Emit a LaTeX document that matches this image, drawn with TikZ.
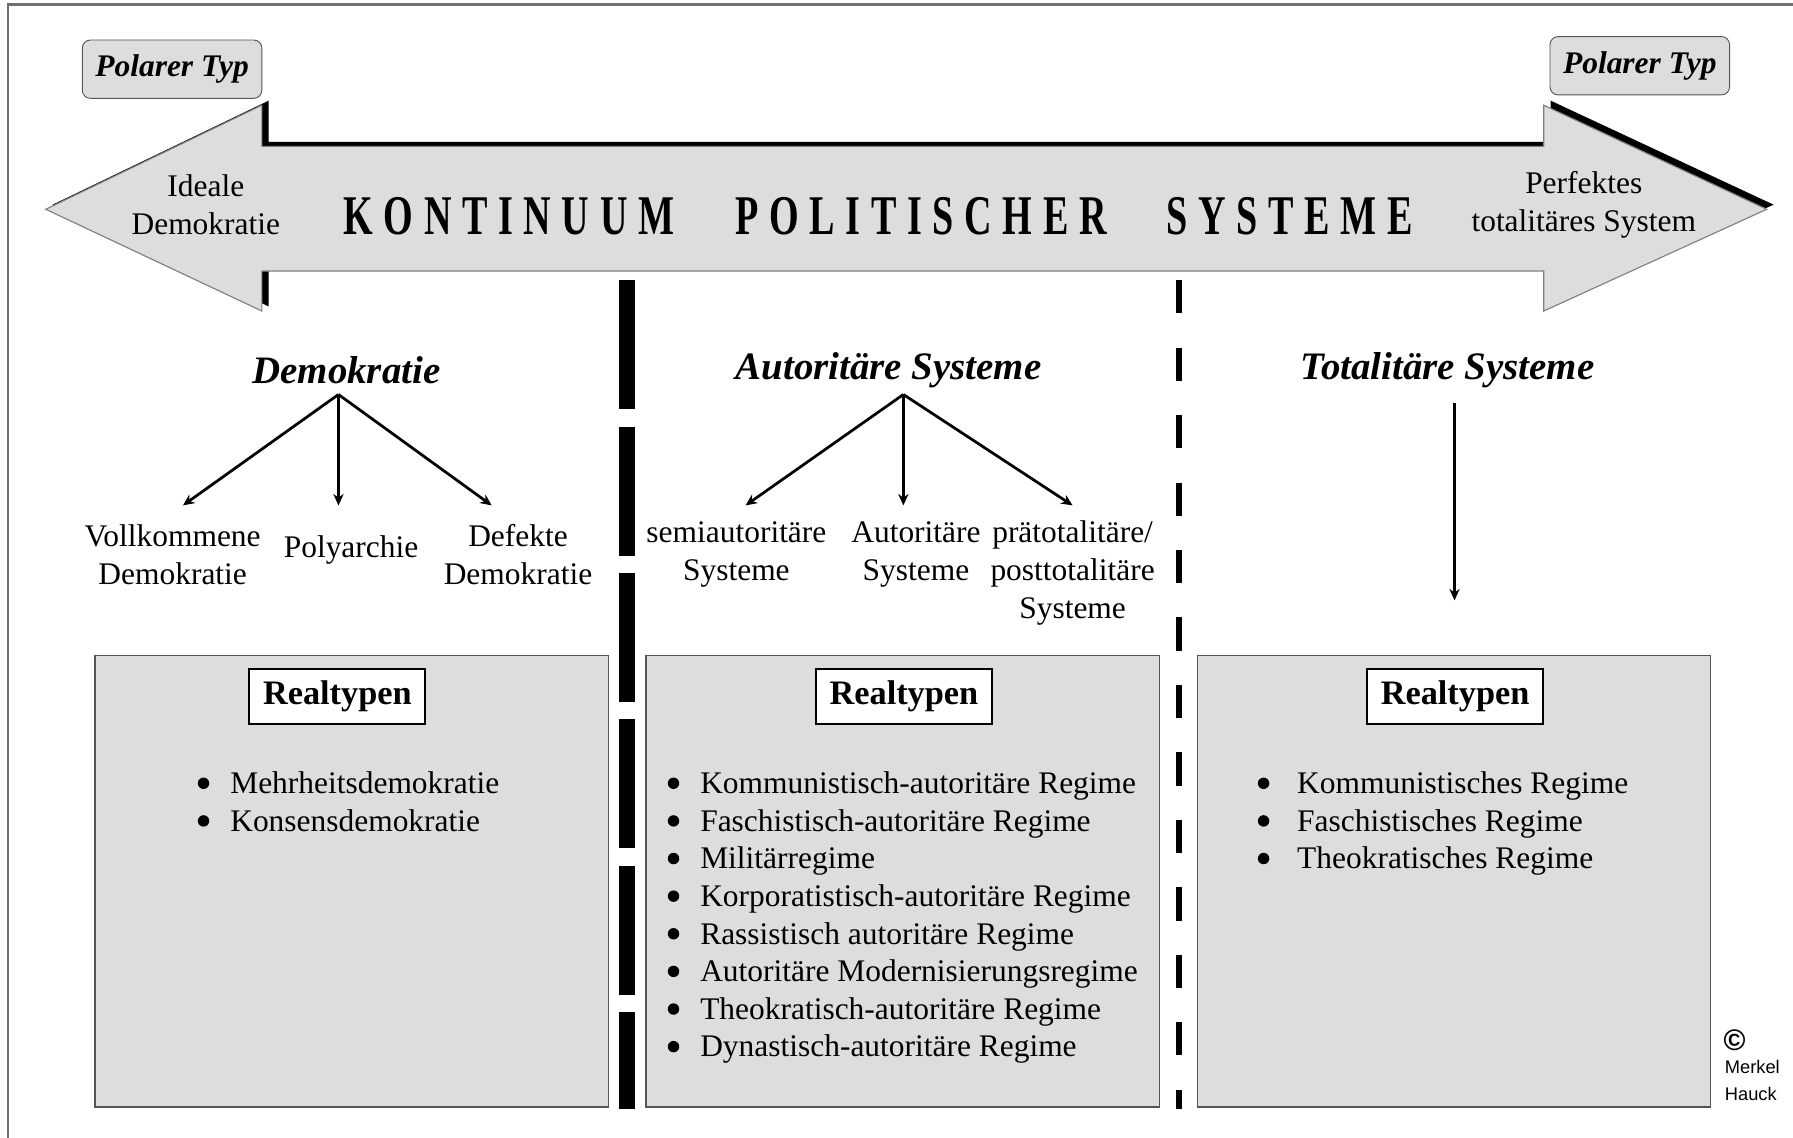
\documentclass[tikz,border=0pt]{standalone}
\usepackage{fontspec}
\setmainfont{Liberation Serif}
\newfontfamily\kontfont[FakeStretch=0.68,LetterSpace=19]{Liberation Serif}
\newfontfamily\hinweisfont{Liberation Sans}
\usetikzlibrary{arrows.meta}

\definecolor{kastengrau}{HTML}{DDDDDD}
\definecolor{randgrau}{HTML}{555555}
\definecolor{rahmengrau}{HTML}{707070}

\tikzset{
  polar/.style={draw=randgrau, fill=kastengrau, rounded corners=3.5pt, minimum width=78.5pt, minimum height=25.5pt,
    font=\fontsize{13.75}{16.5}\selectfont\bfseries\itshape},
  kasten/.style={draw=randgrau, fill=kastengrau, line width=0.6pt, minimum width=224.5pt, minimum height=197.5pt},
  realtyp/.style={draw=black, fill=white, line width=0.8pt, minimum width=77pt, minimum height=24pt,
    font=\fontsize{15}{18}\selectfont\bfseries},
  titel/.style={font=\fontsize{17}{20}\selectfont\bfseries\itshape},
  etikett/.style={align=center, inner sep=0pt, font=\fontsize{13.75}{16.5}\selectfont},
  eintrag/.style={anchor=base west, inner sep=0pt, font=\fontsize{13.75}{16.5}\selectfont},
  wort/.style={anchor=base west, inner sep=0pt, font=\kontfont\bfseries\fontsize{24.5}{29}\selectfont},
}

\begin{document}
\begin{tikzpicture}[x=0.5pt, y=-0.5pt, >={Stealth[length=5pt,width=4.5pt]}]

    \useasboundingbox (0,0) rectangle (1568,995);

    % --- RAHMEN ---
    \draw[rahmengrau, line width=1pt] (1568,4) -- (7,4) -- (7,995);

    % --- KONTINUUM-PFEIL (Eckpunkte) ---
    \coordinate (spitzeL) at (40,183);
    \coordinate (kopfLo)  at (229,92);
    \coordinate (schaftLo) at (229,128);
    \coordinate (schaftRo) at (1350,128);
    \coordinate (kopfRo)  at (1350,92);
    \coordinate (spitzeR) at (1545,183);
    \coordinate (kopfRu)  at (1350,272);
    \coordinate (schaftRu) at (1350,237);
    \coordinate (schaftLu) at (229,237);
    \coordinate (kopfLu)  at (229,272);

    % Schatten (nach rechts oben versetzt)
    \fill[black, transform canvas={xshift=3pt, yshift=2pt}] (spitzeL) -- (kopfLo) -- (schaftLo) -- (schaftRo) -- (kopfRo) -- (spitzeR)
        -- (kopfRu) -- (schaftRu) -- (schaftLu) -- (kopfLu) -- cycle;
    % Pfeil
    \filldraw[fill=kastengrau, draw=gray, line width=0.5pt] (spitzeL) -- (kopfLo) -- (schaftLo) -- (schaftRo) -- (kopfRo) -- (spitzeR)
        -- (kopfRu) -- (schaftRu) -- (schaftLu) -- (kopfLu) -- cycle;

    % Beschriftung im Pfeil
    \node[etikett] (ideal) at (180,179) {Ideale\\Demokratie};
    \node[etikett] (perfekt) at (1385,179) {Perfektes\\totalitäres System};
    \node[wort] (kont) at (300,205) {KONTINUUM};
    \node[wort] (polit) at (643,205) {POLITISCHER};
    \node[wort] (syst) at (1020,205) {SYSTEME};

    % --- POLARE TYPEN ---
    \node[polar] (polarL) at (150.5,60.5) {Polarer Typ};
    \node[polar] (polarR) at (1434,57.5) {Polarer Typ};

    % --- TRENNLINIEN ---
    \draw[line width=7pt, dash pattern=on 56.5pt off 7.5pt] (548,245) -- (548,970);
    \draw[line width=2.5pt, dash pattern=on 14.5pt off 15pt] (1031,245) -- (1031,970);

    % --- GRAUE KAESTEN ---
    \node[kasten] (kasten1) at (307.5,770.5) {};
    \node[kasten] (kasten2) at (789.5,770.5) {};
    \node[kasten] (kasten3) at (1271.5,770.5) {};

    \node[realtyp] (real1) at (295,609) {Realtypen};
    \node[realtyp] (real2) at (790.5,609) {Realtypen};
    \node[realtyp] (real3) at (1272.5,609) {Realtypen};

    % --- UEBERSCHRIFTEN ---
    \node[titel] (demo) at (303,324) {Demokratie};
    \node[titel] (autor) at (777,324) {Autoritäre Systeme};
    \node[titel] (total) at (1266,324) {Totalitäre Systeme};

    % --- UNTERTYPEN ---
    \node[etikett] (vollk) at (151,485) {Vollkommene\\Demokratie};
    \node[etikett] (polya) at (307,481) {Polyarchie};
    \node[etikett] (defekt) at (453,485) {Defekte\\Demokratie};
    \node[etikett] (semi) at (644,485) {semiautoritäre\\Systeme};
    \node[etikett] (autsys) at (801,485) {Autoritäre\\Systeme};
    \node[etikett] (praet) at (938,501) {prätotalitäre/\\posttotalitäre\\Systeme};

    % Verzweigungspunkte und Pfeilziele
    \coordinate (demoAst) at (296,345);
    \coordinate (autorAst) at (790,345);
    \coordinate (totalAst) at (1272,352);
    \coordinate (zielVollk) at (160,442);
    \coordinate (zielPolya) at (296,442);
    \coordinate (zielDefekt) at (430,442);
    \coordinate (zielSemi) at (652,442);
    \coordinate (zielAutsys) at (790,442);
    \coordinate (zielPraet) at (938,442);
    \coordinate (zielTotal) at (1272,525);

    \foreach \ziel in {zielVollk, zielPolya, zielDefekt} {
        \draw[->, line width=1.2pt] (demoAst) -- (\ziel);
    }
    \foreach \ziel in {zielSemi, zielAutsys, zielPraet} {
        \draw[->, line width=1.2pt] (autorAst) -- (\ziel);
    }
    \draw[->, line width=1.2pt] (totalAst) -- (zielTotal);

    % --- LISTEN DER REALTYPEN ---
    \foreach \txt [count=\i] in {Mehrheitsdemokratie, Konsensdemokratie} {
        \fill (178,{685+32.9*(\i-1)}) circle (5);
        \node[eintrag] (liste1-\i) at (201,{694+32.9*(\i-1)}) {\txt};
    }
    \foreach \txt [count=\i] in {Kommunistisch-autoritäre Regime, Faschistisch-autoritäre Regime, Militärregime,
        Korporatistisch-autoritäre Regime, Rassistisch autoritäre Regime, Autoritäre Modernisierungsregime,
        Theokratisch-autoritäre Regime, Dynastisch-autoritäre Regime} {
        \fill (589,{685+32.9*(\i-1)}) circle (5);
        \node[eintrag] (liste2-\i) at (612,{694+32.9*(\i-1)}) {\txt};
    }
    \foreach \txt [count=\i] in {Kommunistisches Regime, Faschistisches Regime, Theokratisches Regime} {
        \fill (1105,{685+32.9*(\i-1)}) circle (5);
        \node[eintrag] (liste3-\i) at (1134,{694+32.9*(\i-1)}) {\txt};
    }

    % --- COPYRIGHT ---
    \node[anchor=west, inner sep=0pt, font=\hinweisfont\bfseries\fontsize{13}{15}\selectfont] (copy) at (1507,910) {©};
    \node[anchor=north west, inner sep=0pt, align=left, font=\hinweisfont\fontsize{8}{11.5}\selectfont] (autoren) at (1508,927) {Merkel\\Hauck};

\end{tikzpicture}
\end{document}
